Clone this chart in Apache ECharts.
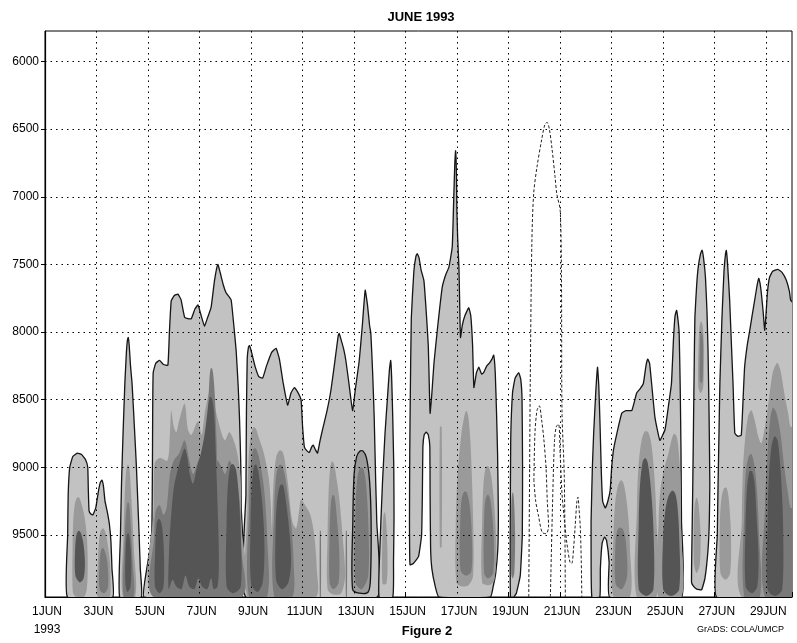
<!DOCTYPE html>
<html><head><meta charset="utf-8">
<script src="https://cdn.jsdelivr.net/npm/echarts@6/dist/echarts.min.js"></script>
<style>html,body{margin:0;padding:0;background:#fff}#c{width:797px;height:643px}</style>
</head><body><div id="c"></div><script>
// ---- data (x = days after 1 JUN 1993 00Z, y = height) ----
const BASE = 9958;
const heightRange = [5775, 9958];
const dayRange = [0, 29];
const dayTicks = [0, 2, 4, 6, 8, 10, 12, 14, 16, 18, 20, 22, 24, 26, 28];
const heightTicks = [6000, 6500, 7000, 7500, 8000, 8500, 9000, 9500];

// outermost (lightest) filled contour, outlined
const outerContour = [
 [[0.87,BASE],[0.88,9500],[0.9,9200],[0.96,9000],[1.08,8920],[1.25,8895],[1.42,8905],[1.58,8945],[1.66,9000],[1.68,9150],[1.71,9320],[1.78,9345],[1.86,9350],[1.97,9300],[2.08,9170],[2.15,9110],[2.21,9095],[2.27,9140],[2.33,9250],[2.42,9330],[2.5,9420],[2.56,9550],[2.6,9750],[2.63,BASE]],
 [[2.9,BASE],[2.93,9500],[2.97,9120],[3.03,8750],[3.1,8380],[3.16,8150],[3.2,8060],[3.23,8040],[3.27,8100],[3.32,8250],[3.38,8380],[3.47,8700],[3.55,9000],[3.65,9480],[3.7,9750],[3.74,BASE]],
 [[3.85,BASE],[3.95,9750],[4.08,9600],[4.15,9450],[4.17,9000],[4.18,8600],[4.2,8300],[4.3,8230],[4.45,8210],[4.6,8240],[4.77,8245],[4.83,8000],[4.9,7770],[5.02,7730],[5.16,7720],[5.28,7760],[5.42,7890],[5.55,7900],[5.68,7900],[5.82,7830],[5.94,7800],[6.05,7870],[6.19,7955],[6.3,7900],[6.45,7815],[6.58,7620],[6.71,7500],[6.8,7560],[6.92,7650],[7.03,7710],[7.15,7740],[7.23,7765],[7.33,7950],[7.42,8135],[7.5,8400],[7.55,8630],[7.6,8970],[7.62,9300],[7.63,BASE]],
 [[7.8,BASE],[7.8,9200],[7.82,8600],[7.85,8200],[7.9,8110],[7.94,8100],[8.02,8150],[8.15,8250],[8.3,8330],[8.45,8340],[8.6,8250],[8.8,8150],[8.97,8120],[9.1,8200],[9.25,8380],[9.42,8540],[9.55,8450],[9.68,8410],[9.8,8440],[9.94,8500],[10.0,8700],[10.07,8850],[10.18,8880],[10.26,8890],[10.35,8850],[10.41,8835],[10.5,8870],[10.58,8895],[10.68,8800],[10.77,8725],[10.95,8580],[11.1,8430],[11.25,8220],[11.38,8030],[11.42,8010],[11.5,8060],[11.6,8130],[11.68,8210],[11.8,8380],[11.94,8580],[12.05,8420],[12.2,8210],[12.32,7950],[12.43,7690],[12.52,7800],[12.6,7950],[12.65,8010],[12.72,8300],[12.78,8630],[12.84,9120],[12.88,9400],[12.9,BASE]],
 [[12.97,BASE],[13.0,9600],[13.1,9120],[13.2,8750],[13.29,8500],[13.37,8280],[13.42,8210],[13.46,8350],[13.5,8630],[13.54,9000],[13.55,9370],[13.53,9700],[13.5,BASE]],
 [[14.17,9720],[14.15,9400],[14.16,8900],[14.18,8500],[14.22,7900],[14.32,7550],[14.4,7440],[14.45,7420],[14.52,7450],[14.6,7540],[14.71,7620],[14.8,7850],[14.88,8100],[14.92,8400],[14.95,8600],[15.02,8450],[15.1,8230],[15.25,7950],[15.42,7670],[15.55,7580],[15.68,7520],[15.81,7370],[15.87,7000],[15.91,6750],[15.94,6660],[15.97,6800],[15.99,7100],[16.02,7300],[16.07,7520],[16.1,7800],[16.13,8040],[16.2,7950],[16.3,7880],[16.45,7820],[16.53,7880],[16.6,8100],[16.65,8410],[16.75,8300],[16.84,8260],[16.95,8310],[17.03,8300],[17.15,8250],[17.25,8230],[17.35,8200],[17.42,8170],[17.48,8300],[17.53,8600],[17.57,8900],[17.6,9340],[17.58,9600],[17.5,9780],[17.4,9880],[17.29,BASE],[15.29,BASE],[15.15,9880],[15.02,9750],[14.97,9600],[14.95,9200],[14.94,8850],[14.88,8760],[14.8,8740],[14.72,8760],[14.67,8850],[14.65,9200],[14.62,9500],[14.5,9660],[14.3,9710]],
 [[18.07,BASE],[18.06,9500],[18.08,8800],[18.15,8450],[18.25,8340],[18.39,8300],[18.47,8350],[18.52,8500],[18.54,9000],[18.53,9500],[18.45,9800],[18.3,9930],[18.2,BASE]],
 [[21.23,BASE],[21.2,9600],[21.2,9400],[21.25,9000],[21.3,8750],[21.38,8450],[21.45,8260],[21.5,8400],[21.55,8700],[21.6,9050],[21.65,9250],[21.75,9300],[21.85,9250],[21.94,9170],[22.0,9000],[22.07,8870],[22.2,8750],[22.39,8600],[22.55,8580],[22.78,8580],[22.97,8450],[23.1,8420],[23.23,8380],[23.33,8250],[23.4,8200],[23.47,8230],[23.55,8380],[23.68,8630],[23.87,8800],[24.07,8720],[24.2,8550],[24.32,8380],[24.4,8050],[24.46,7880],[24.52,7840],[24.58,7920],[24.62,8010],[24.66,8400],[24.69,8870],[24.71,9400],[24.71,BASE],[21.92,BASE],[21.9,9700],[21.8,9540],[21.72,9515],[21.63,9560],[21.56,9750],[21.54,BASE]],
 [[25.1,9850],[25.12,9500],[25.15,9100],[25.2,8300],[25.23,7890],[25.3,7650],[25.36,7520],[25.45,7420],[25.51,7395],[25.57,7460],[25.64,7595],[25.7,7850],[25.74,8135],[25.78,8600],[25.81,9117],[25.79,9400],[25.74,9610],[25.62,9820],[25.49,9905],[25.3,9900],[25.18,9880]],
 [[26.07,BASE],[26.1,9500],[26.13,9117],[26.17,8700],[26.2,8380],[26.28,7900],[26.36,7550],[26.42,7420],[26.45,7396],[26.5,7500],[26.58,7765],[26.65,8100],[26.71,8378],[26.78,8748],[26.9,8770],[27.03,8762],[27.1,8500],[27.16,8260],[27.26,8100],[27.36,7987],[27.45,7880],[27.55,7765],[27.65,7650],[27.71,7603],[27.76,7640],[27.81,7713],[27.88,7850],[27.94,7987],[27.98,7900],[28.05,7700],[28.13,7595],[28.25,7550],[28.45,7536],[28.62,7560],[28.78,7617],[28.9,7700],[28.95,7765],[29.1,7800],[29.1,BASE]]
];

// second contour level (medium grey)
const shadeMedium = [
 [[1.08,9920],[1.07,9600],[1.1,9380],[1.16,9270],[1.24,9225],[1.32,9222],[1.4,9260],[1.52,9350],[1.62,9500],[1.66,9700],[1.62,9900],[1.5,BASE],[1.2,BASE]],
 [[2.05,BASE],[2.05,9700],[2.1,9540],[2.17,9465],[2.26,9450],[2.34,9475],[2.42,9550],[2.52,9700],[2.55,9900],[2.5,BASE]],
 [[3.02,BASE],[3.05,9500],[3.1,9180],[3.16,9010],[3.22,8980],[3.28,9010],[3.36,9250],[3.45,9600],[3.5,BASE]],
 [[4.2,BASE],[4.22,9300],[4.26,8970],[4.45,8930],[4.75,8950],[4.85,8750],[4.9,8580],[5.0,8700],[5.1,8740],[5.2,8660],[5.42,8530],[5.55,8720],[5.68,8760],[5.94,8660],[6.08,8760],[6.2,8600],[6.3,8500],[6.45,8400],[6.65,8600],[6.97,8800],[7.16,8740],[7.36,8820],[7.5,8930],[7.6,9100],[7.62,9400],[7.62,BASE]],
 [[7.85,BASE],[7.86,9300],[7.9,8950],[7.98,8780],[8.08,8705],[8.18,8710],[8.3,8780],[8.5,8900],[8.7,9100],[8.79,9400],[8.8,BASE]],
 [[8.8,BASE],[8.82,9400],[8.88,9080],[8.98,8920],[9.1,8875],[9.22,8885],[9.32,8960],[9.45,9150],[9.6,9400],[9.75,9450],[9.88,9300],[9.94,9240],[10.1,9280],[10.3,9350],[10.45,9500],[10.55,9750],[10.5,BASE]],
 [[10.97,9900],[10.97,9500],[11.01,9180],[11.07,9010],[11.14,8955],[11.22,8975],[11.3,9060],[11.42,9220],[11.55,9500],[11.65,9800],[11.5,9930],[11.2,9940]],
 [[13.1,9860],[13.1,9500],[13.14,9360],[13.2,9330],[13.26,9450],[13.3,9700],[13.25,9860]],
 [[15.33,9590],[15.33,8700],[15.4,8700],[15.4,9590]],
 [[15.97,9850],[15.95,9400],[16.02,9050],[16.16,8760],[16.28,8620],[16.36,8582],[16.43,8620],[16.5,8760],[16.56,9000],[16.62,9400],[16.62,9800],[16.45,9870],[16.2,9880]],
 [[16.97,9850],[16.97,9400],[17.02,9130],[17.1,9010],[17.2,8990],[17.32,9060],[17.45,9300],[17.52,9600],[17.45,9830],[17.25,9870]],
 [[22.07,BASE],[22.07,9500],[22.13,9270],[22.24,9140],[22.36,9096],[22.46,9120],[22.56,9220],[22.65,9380],[22.71,9600],[22.71,BASE]],
 [[22.97,BASE],[22.98,9300],[23.03,9020],[23.14,8820],[23.28,8735],[23.42,8740],[23.54,8830],[23.64,9020],[23.72,9300],[23.74,BASE]],
 [[23.81,BASE],[23.82,9400],[23.9,9150],[24.05,9000],[24.2,8900],[24.32,8800],[24.42,8752],[24.52,8770],[24.6,8880],[24.67,9100],[24.7,9500],[24.71,BASE]],
 [[25.36,8400],[25.37,8100],[25.41,7960],[25.47,7920],[25.53,7950],[25.57,8060],[25.58,8200],[25.55,8410],[25.45,8450]],
 [[25.2,9720],[25.19,9400],[25.23,9270],[25.3,9222],[25.37,9270],[25.45,9500],[25.42,9720],[25.3,9780]],
 [[26.22,9780],[26.2,9400],[26.26,9230],[26.36,9155],[26.46,9150],[26.55,9240],[26.63,9500],[26.6,9780],[26.42,9830]],
 [[27.05,BASE],[27.05,9400],[27.1,9000],[27.2,8750],[27.3,8620],[27.42,8578],[27.55,8650],[27.7,8780],[27.81,8822],[27.95,8700],[28.1,8500],[28.25,8300],[28.4,8230],[28.45,8230],[28.55,8280],[28.7,8450],[28.85,8600],[28.95,8700],[29.1,8700],[29.1,BASE]]
];
// medium blob drawn with a black contour line
const shadeMediumOutlined = [
 [[11.94,9900],[11.95,9400],[12.0,9050],[12.1,8920],[12.22,8880],[12.35,8880],[12.48,8930],[12.6,9100],[12.66,9400],[12.64,9800],[12.55,9920],[12.2,9930]]
];

// third level (dark grey)
const shadeDark = [
 [[2.12,9900],[2.12,9700],[2.18,9610],[2.26,9595],[2.34,9630],[2.42,9700],[2.45,9880],[2.3,9930]],
 [[3.06,BASE],[3.08,9600],[3.13,9380],[3.2,9260],[3.26,9265],[3.32,9400],[3.4,9700],[3.44,BASE]],
 [[4.22,BASE],[4.24,9500],[4.3,9320],[4.45,9280],[4.6,9350],[4.72,9300],[4.85,9050],[5.0,8950],[5.2,8900],[5.42,8800],[5.6,8950],[5.75,9050],[5.95,8950],[6.1,8900],[6.25,8900],[6.7,8950],[6.85,9000],[7.0,9050],[7.15,8950],[7.3,9000],[7.45,9100],[7.58,9300],[7.62,9600],[7.62,BASE]],
 [[6.25,9700],[6.28,9000],[6.33,8600],[6.38,8360],[6.43,8270],[6.49,8270],[6.55,8350],[6.6,8500],[6.66,8800],[6.7,9200],[6.72,9700],[6.6,9880],[6.4,9880]],
 [[7.92,BASE],[7.92,9300],[7.98,9020],[8.07,8870],[8.18,8860],[8.3,8920],[8.5,9150],[8.62,9500],[8.62,BASE]],
 [[8.9,BASE],[8.9,9300],[8.97,9070],[9.08,8985],[9.2,8985],[9.35,9100],[9.55,9400],[9.65,9700],[9.6,BASE]],
 [[11.05,9850],[11.05,9500],[11.09,9290],[11.16,9205],[11.24,9215],[11.32,9350],[11.42,9600],[11.4,9850],[11.2,9900]],
 [[12.05,9850],[12.05,9300],[12.12,9090],[12.22,9005],[12.34,9005],[12.45,9100],[12.55,9400],[12.55,9800],[12.3,9900]],
 [[10.67,BASE],[10.67,9470],[10.71,9470],[10.71,BASE]],
 [[11.68,BASE],[11.68,9470],[11.72,9470],[11.72,BASE]],
 [[16.13,9760],[16.12,9400],[16.17,9240],[16.27,9180],[16.38,9185],[16.5,9300],[16.58,9550],[16.55,9770],[16.35,9800]],
 [[17.05,9780],[17.05,9350],[17.11,9230],[17.2,9200],[17.3,9250],[17.42,9500],[17.4,9780],[17.2,9820]],
 [[18.1,9780],[18.1,9300],[18.13,9200],[18.17,9185],[18.21,9250],[18.25,9500],[18.22,9780],[18.15,9820]],
 [[22.15,9860],[22.15,9550],[22.22,9465],[22.32,9445],[22.44,9460],[22.55,9550],[22.6,9800],[22.4,9900]],
 [[25.42,8350],[25.43,8050],[25.47,8005],[25.52,8015],[25.55,8100],[25.53,8350],[25.48,8380]],
 [[27.15,BASE],[27.15,9300],[27.2,9050],[27.3,8930],[27.42,8900],[27.55,9000],[27.65,9200],[27.72,9500],[27.75,BASE]],
 [[27.95,BASE],[27.95,9300],[28.05,8900],[28.15,8650],[28.26,8560],[28.4,8600],[28.55,8750],[28.7,9000],[28.85,9200],[28.95,9300],[29.1,9300],[29.1,BASE]]
];

// innermost level (darkest grey)
const shadeDarkest = [
 [[1.18,9800],[1.17,9600],[1.22,9500],[1.3,9468],[1.38,9480],[1.48,9550],[1.55,9700],[1.5,9820],[1.35,9850]],
 [[3.12,9850],[3.13,9600],[3.18,9495],[3.24,9485],[3.3,9540],[3.35,9700],[3.32,9880],[3.2,9920]],
 [[4.27,9880],[4.28,9600],[4.33,9420],[4.41,9380],[4.5,9400],[4.57,9480],[4.62,9650],[4.6,9880],[4.45,9930]],
 [[4.8,9900],[4.82,9600],[4.9,9350],[5.0,9150],[5.15,9020],[5.3,8920],[5.42,8860],[5.52,8920],[5.62,9050],[5.75,9120],[5.9,9000],[6.05,8900],[6.2,8750],[6.3,8600],[6.4,8480],[6.5,8500],[6.58,8650],[6.65,9000],[6.72,9400],[6.75,9700],[6.7,9880],[6.55,9900],[6.45,9820],[6.3,9900],[6.1,9880],[5.95,9820],[5.8,9900],[5.6,9880],[5.45,9800],[5.3,9900],[5.1,9880],[4.95,9830]],
 [[7.05,9880],[7.05,9400],[7.1,9130],[7.2,8990],[7.3,8975],[7.42,9020],[7.52,9200],[7.6,9500],[7.6,9880],[7.3,9930]],
 [[8.0,9860],[7.98,9400],[8.03,9140],[8.11,8990],[8.2,8980],[8.3,9050],[8.45,9300],[8.52,9600],[8.45,9850],[8.25,9920]],
 [[8.97,9830],[8.96,9400],[9.02,9230],[9.12,9135],[9.24,9130],[9.36,9260],[9.5,9500],[9.55,9700],[9.45,9850],[9.2,9900]],
 [[23.05,9900],[23.05,9400],[23.1,9130],[23.2,8960],[23.3,8930],[23.4,8965],[23.52,9150],[23.62,9450],[23.62,9900],[23.35,9950]],
 [[24.0,9900],[24.0,9500],[24.08,9320],[24.2,9215],[24.34,9172],[24.46,9190],[24.55,9280],[24.62,9500],[24.62,9900],[24.3,9950]],
 [[27.2,9880],[27.2,9400],[27.26,9140],[27.35,9030],[27.45,9030],[27.55,9120],[27.62,9350],[27.7,9650],[27.65,9880],[27.45,9930]],
 [[28.05,9900],[28.05,9400],[28.1,9080],[28.2,8850],[28.32,8770],[28.44,8800],[28.55,9000],[28.65,9400],[28.62,9900],[28.35,9950]]
];

// unfilled (dashed) contour lines
const dashedContours = [
 [[18.78,9958],[18.8,9400],[18.84,8340],[18.9,7350],[18.97,6980],[19.1,6780],[19.28,6580],[19.4,6470],[19.49,6450],[19.58,6500],[19.68,6640],[19.8,6850],[19.87,6980],[20.0,7100],[20.05,7600],[20.07,8580],[20.16,9070],[20.2,9958]],
 [[18.98,9100],[19.02,8750],[19.1,8580],[19.19,8545],[19.28,8650],[19.36,8780],[19.45,9000],[19.5,9250],[19.55,9440],[19.45,9490],[19.3,9480],[19.15,9350],[19.05,9250],[18.98,9100]],
 [[19.62,9958],[19.7,9300],[19.78,8800],[19.85,8700],[19.94,8680],[20.0,8900],[20.07,9190],[20.17,9400],[20.26,9560],[20.38,9700],[20.45,9710],[20.52,9600],[20.58,9440],[20.65,9250],[20.69,9220],[20.73,9300],[20.78,9440],[20.82,9700],[20.84,9958]]
];

// ---- rendering ----
const FONT = '"Liberation Sans", Arial, sans-serif';

function polySeries(name, polys, fill, stroke, z, smooth) {
  return {
    name: name, type: 'custom', coordinateSystem: 'cartesian2d', z: z,
    clip: true, silent: true, animation: false,
    data: polys.map(p => [p[0][0], p[0][1]]),
    encode: { x: 0, y: 1 },
    renderItem: function (params, api) {
      const poly = polys[params.dataIndex];
      const pts = poly.map(pt => api.coord(pt));
      return {
        type: 'polygon',
        shape: { points: pts, smooth: smooth },
        style: { fill: fill, stroke: stroke || null, lineWidth: stroke ? 1.3 : 0 }
      };
    }
  };
}

const series = [
  polySeries('outer', outerContour, '#c2c2c2', '#151515', 2, 0.12),
  polySeries('medium', shadeMedium, '#9a9a9a', null, 3, 0.3),
  polySeries('mediumOutlined', shadeMediumOutlined, '#9a9a9a', '#151515', 3, 0.3),
  polySeries('dark', shadeDark, '#797979', null, 4, 0.3),
  polySeries('darkest', shadeDarkest, '#555555', null, 5, 0.3)
];
dashedContours.forEach((c, i) => {
  series.push({
    name: 'dashed' + i, type: 'line', data: c, z: 6, silent: true, animation: false,
    showSymbol: false, symbol: 'none', smooth: 0.3,
    lineStyle: { color: '#222', width: 1, type: [3, 2] }
  });
});
series.push({
  name: 'grid', type: 'line', data: [], z: 8, silent: true, animation: false,
  markLine: {
    silent: true, animation: false, symbol: ['none', 'none'], label: { show: false },
    lineStyle: { color: '#000', width: 1, type: [1.5, 4] },
    data: dayTicks.filter(d => d > dayRange[0]).map(d => ({ xAxis: d }))
      .concat(heightTicks.map(h => ({ yAxis: h })))
  }
});

const chart = echarts.init(document.getElementById('c'), null, { renderer: 'canvas' });
chart.setOption({
  backgroundColor: '#fff',
  animation: false,
  grid: { left: 45, right: 4, top: 31, bottom: 46, show: true, borderColor: '#000', borderWidth: 1, backgroundColor: 'transparent' },
  xAxis: {
    type: 'value', min: dayRange[0], max: dayRange[1], interval: 2,
    axisLine: { show: true, lineStyle: { color: '#000', width: 1.2 } },
    axisTick: { show: true, inside: true, length: 5, lineStyle: { color: '#000' } },
    splitLine: { show: false },
    axisLabel: {
      color: '#000', fontSize: 12, fontFamily: FONT, margin: 6, lineHeight: 18, padding: [0, 0, 0, 4],
      formatter: function (v) {
        if (dayTicks.indexOf(v) < 0) return '';
        return v === 0 ? '1JUN\n1993' : (v + 1) + 'JUN';
      }
    }
  },
  yAxis: {
    type: 'value', inverse: true, min: heightRange[0], max: heightRange[1],
    axisLine: { show: true, lineStyle: { color: '#000', width: 1.2 } },
    axisTick: { show: true, inside: false, length: 4, customValues: heightTicks, lineStyle: { color: '#000' } },
    splitLine: { show: false },
    axisLabel: { color: '#000', fontSize: 12, fontFamily: FONT, margin: 6, customValues: heightTicks,
      formatter: function (v) { return String(v); } }
  },
  graphic: [
    { type: 'text', x: 421, y: 17, style: { text: 'JUNE 1993', font: 'bold 13px ' + FONT, fill: '#000', textAlign: 'center', textVerticalAlign: 'middle' } },
    { type: 'text', x: 427, y: 631, style: { text: 'Figure 2', font: 'bold 13px ' + FONT, fill: '#000', textAlign: 'center', textVerticalAlign: 'middle' } },
    { type: 'text', x: 697, y: 630, style: { text: 'GrADS: COLA/UMCP', font: '9px ' + FONT, fill: '#000', textAlign: 'left', textVerticalAlign: 'middle' } }
  ],
  series: series
});
</script></body></html>
